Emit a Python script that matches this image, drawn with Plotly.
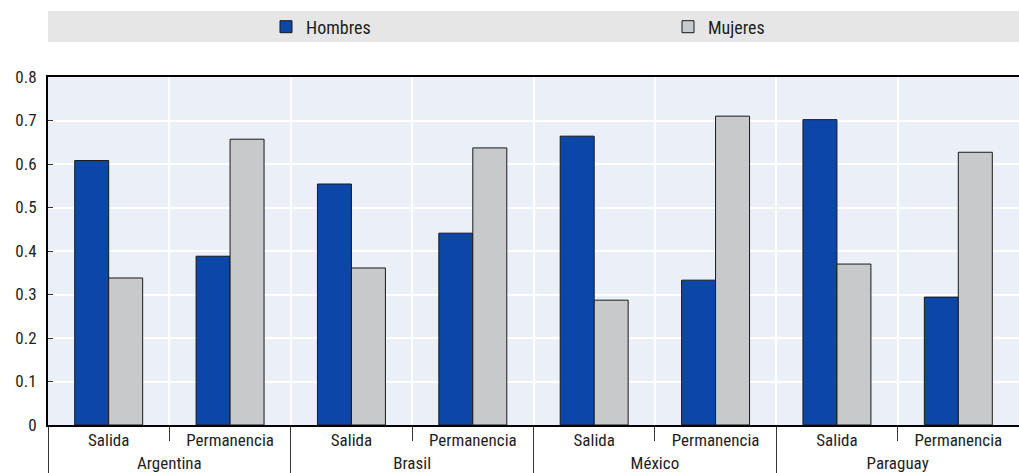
import plotly.graph_objects as go

countries = ["Argentina", "Argentina", "Brasil", "Brasil", "México", "México", "Paraguay", "Paraguay"]
subcats = ["Salida", "Permanencia"] * 4
hombres = [0.608, 0.388, 0.554, 0.441, 0.664, 0.333, 0.702, 0.294]
mujeres = [0.338, 0.657, 0.361, 0.637, 0.287, 0.710, 0.370, 0.627]
y_ticks = [0, 0.1, 0.2, 0.3, 0.4, 0.5, 0.6, 0.7, 0.8]
y_labels = ["0", "0.1", "0.2", "0.3", "0.4", "0.5", "0.6", "0.7", "0.8"]

FONT = "Roboto Condensed, Arial Narrow, sans-serif"
TXT = "#1e1e1e"

fig = go.Figure()
fig.add_trace(go.Bar(name="Hombres", x=[countries, subcats], y=hombres, legend="legend",
                     marker=dict(color="#0C47A8", line=dict(color="#1a1a1a", width=1))))
fig.add_trace(go.Bar(name="Mujeres", x=[countries, subcats], y=mujeres, legend="legend2",
                     marker=dict(color="#C8C9CA", line=dict(color="#1a1a1a", width=1))))

W, H = 1019, 473
ML, MR, MT, MB = 48, 0, 77, 48
ph = H - MT - MB

legend_common = dict(orientation="h", yref="container", y=1 - 27 / H, yanchor="middle",
                     xanchor="left", bgcolor="rgba(0,0,0,0)",
                     font=dict(family=FONT, size=18, color=TXT))

fig.update_layout(
    width=W, height=H,
    margin=dict(l=ML, r=MR, t=MT, b=MB, autoexpand=False),
    paper_bgcolor="white",
    plot_bgcolor="#EBF0F8",
    barmode="group", bargap=0.44, bargroupgap=0,
    font=dict(family=FONT, size=18, color=TXT),
    showlegend=True,
    legend=dict(x=(266 - ML) / (W - ML - MR), **legend_common),
    legend2=dict(x=(668 - ML) / (W - ML - MR), **legend_common),
    shapes=[dict(type="rect", xref="paper", yref="paper", x0=0, x1=1,
                 y0=(H - 42 - MB) / ph, y1=(H - 11 - MB) / ph,
                 fillcolor="#E6E6E6", line=dict(width=0), layer="below")],
)

fig.update_xaxes(type="multicategory", automargin=False,
                 showline=True, linecolor="black", linewidth=2, mirror=True,
                 ticks="outside", tickson="boundaries", ticklen=14,
                 tickcolor="#333333", tickwidth=1, ticklabelstandoff=-1,
                 showgrid=True, gridcolor="white", gridwidth=1.5,
                 showdividers=True, dividercolor="#333333", dividerwidth=1,
                 tickfont=dict(family=FONT, size=17, color=TXT))
fig.update_yaxes(range=[0, 0.8], tickvals=y_ticks, ticktext=y_labels, automargin=False,
                 showline=True, linecolor="black", linewidth=2,
                 ticks="inside", ticklen=5, tickcolor="#333333",
                 showgrid=True, gridcolor="white", gridwidth=1.5,
                 zeroline=False, ticklabelstandoff=6,
                 tickfont=dict(family=FONT, size=17, color=TXT))

fig.write_html("out.html", config={"displayModeBar": False},
               post_script="document.body.style.margin='0';document.body.style.padding='0';")
